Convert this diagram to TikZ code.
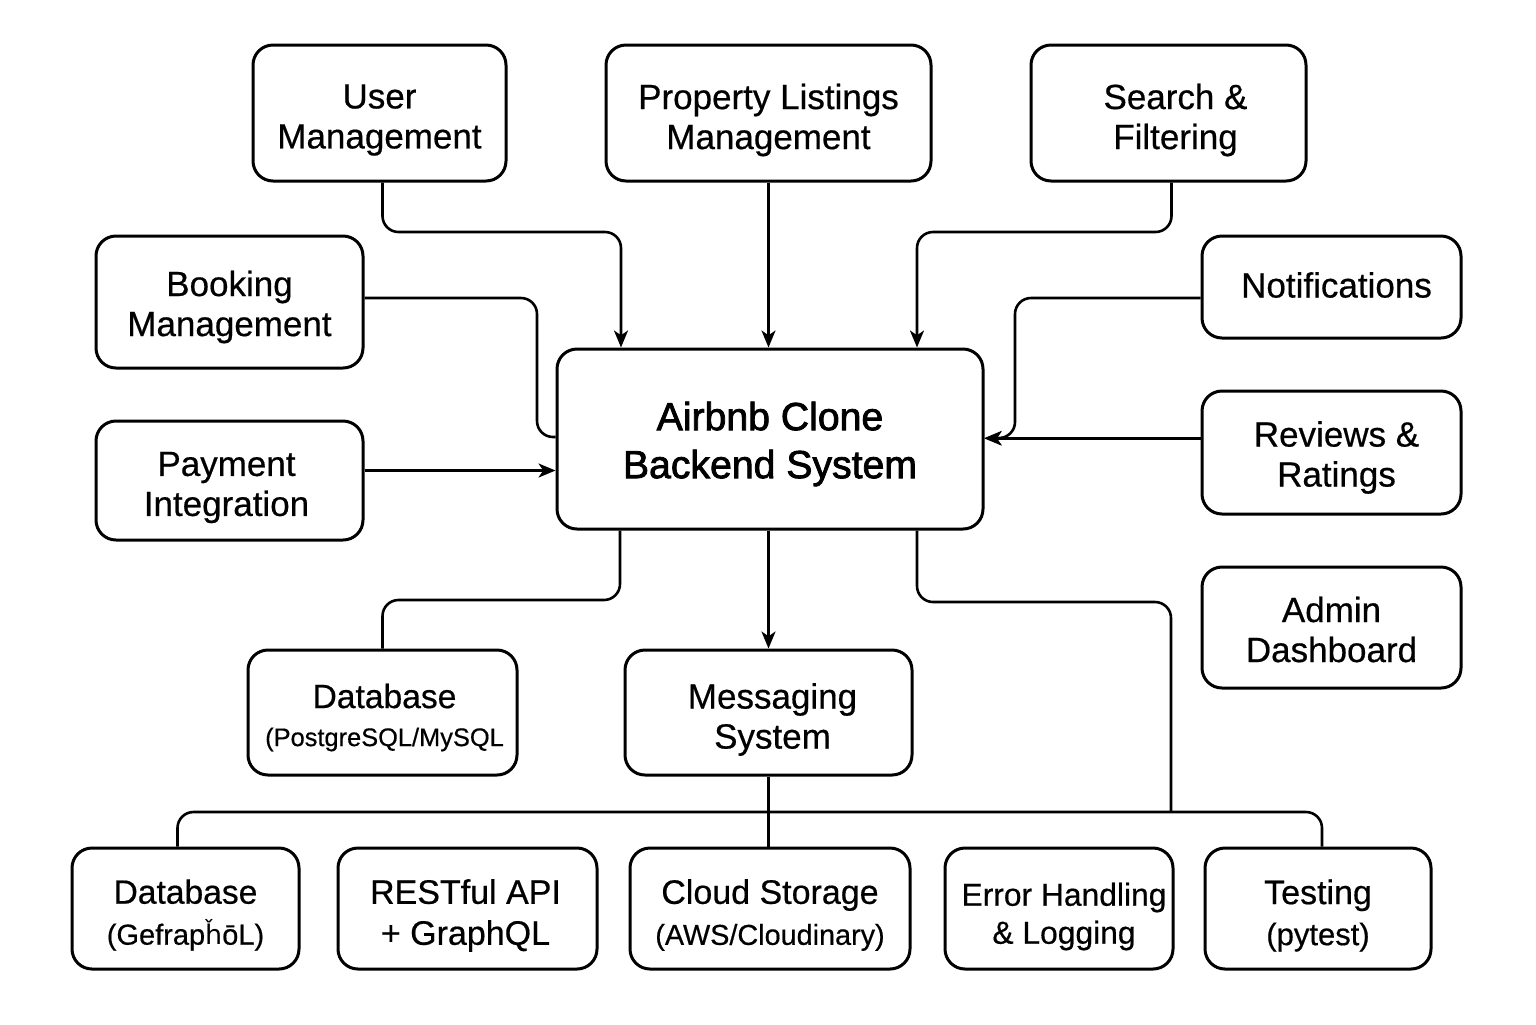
\documentclass[tikz,border=0pt]{standalone}
\usepackage{fontspec}
\setmainfont{Liberation Sans}[FakeBold=0.5]
\newfontfamily\titlefont{Liberation Sans}[FakeBold=2]
\newfontfamily\dvfont{DejaVu Sans}
\usetikzlibrary{arrows.meta,calc}
\newcommand\mybox[6]{%
  \node[box,minimum width=#3,minimum height=#4] (#1) at (#2) {};
  \node[txt,#5] (#1-t) at (#1.center) {#6};}
\begin{document}
\begin{tikzpicture}[x=0.5pt,y=-0.5pt,
  box/.style={draw,line width=1.5pt,rounded corners=10pt,inner sep=0pt},
  txt/.style={align=center,inner sep=0pt},
  conn/.style={line width=1.3pt,rounded corners=8pt},
  arr/.style={conn,-{Stealth[length=8.5pt,width=7pt,inset=2.4pt]}},
  fa/.style={font=\fontsize{17.5}{20}\selectfont},
  fb/.style={font=\fontsize{17}{20.5}\selectfont},
]
\useasboundingbox (0,0) rectangle (1536,1024);
\fill[white] (0,0) rectangle (1536,1024);

% top row
\mybox{user}{379.5,113}{126.5pt}{68pt}{fa,yshift=-3.5pt}{User\\Management}
\mybox{prop}{768.5,113}{162.5pt}{68pt}{fa,yshift=-3.5pt}{Property Listings\\Management}
\mybox{search}{1168.5,113}{137.5pt}{68pt}{fa,yshift=-3.5pt,xshift=3.5pt}{Search \&\\Filtering}

% left column
\mybox{booking}{229.5,302}{133.5pt}{66pt}{fa,yshift=-2.5pt}{Booking\\Management}
\mybox{payment}{229.5,480.5}{133.5pt}{59.5pt}{fa,yshift=-3.5pt,xshift=-1.5pt}{Payment\\Integration}

% right column
\mybox{notif}{1331.5,287}{129.5pt}{51pt}{fa,yshift=1pt,xshift=2.5pt}{Notifications}
\mybox{reviews}{1331.5,452.5}{129.5pt}{61.5pt}{fa,yshift=-2.5pt,xshift=2.5pt}{Reviews \&\\Ratings}
\mybox{admin}{1331.5,627.5}{129.5pt}{60.5pt}{fa,yshift=-1pt}{Admin\\Dashboard}

% center
\mybox{center}{770,439}{213pt}{90pt}{font=\titlefont\fontsize{19.6}{24}\selectfont,yshift=-2.5pt}{Airbnb Clone\\Backend System}

% middle row
\mybox{db1}{382.5,712.5}{134.5pt}{62.5pt}{font=\fontsize{16.8}{19}\selectfont,yshift=-2.5pt,xshift=1pt}
  {Database\\{\fontsize{12.7}{19}\selectfont (PostgreSQL/MySQL}}
\mybox{msg}{768.5,712.5}{143.5pt}{62.5pt}{fa,yshift=-3.5pt,xshift=2pt}{Messaging\\System}

% bottom row
\mybox{db2}{185.5,908.5}{113.5pt}{60.5pt}{font=\fontsize{16.8}{20.5}\selectfont,yshift=-3.25pt}
  {Database\\{\fontsize{14.5}{20.5}\selectfont (Gefrap{\dvfont\fontsize{13.5}{20.5}\selectfont ȟ}ōL)}}
\mybox{rest}{467.5,908.5}{129.5pt}{60.5pt}{fb,yshift=-3.5pt,xshift=-1pt}{RESTful API\\+ GraphQL}
\mybox{cloud}{770,908.5}{140pt}{60.5pt}{font=\fontsize{17}{20.5}\selectfont,yshift=-3.25pt}
  {Cloud Storage\\{\fontsize{14.4}{20.5}\selectfont (AWS/Cloudinary)}}
\mybox{error}{1059,908.5}{114pt}{60.5pt}{font=\fontsize{15.9}{19}\selectfont,yshift=-4pt,xshift=2.5pt}{Error Handling\\\& Logging}
\mybox{test}{1318,908.5}{113pt}{60.5pt}{font=\fontsize{17}{20.5}\selectfont,yshift=-3.5pt}
  {Testing\\{\fontsize{15.5}{20.5}\selectfont (pytest)}}

% connectors into center
\coordinate (uturn) at (621,232);
\coordinate (ustart) at ($(user.south)+(3,0)$);
\draw[arr] (ustart) |- (uturn) -- (uturn |- center.north);
\draw[arr] (prop.south) -- (prop.south |- center.north);
\coordinate (sturn) at (917,232);
\coordinate (sstart) at ($(search.south)+(3,0)$);
\draw[arr] (sstart) |- (sturn) -- (sturn |- center.north);

\coordinate (bstart) at ($(booking.east)+(0,-4)$);
\coordinate (bturn) at (537,437);
\draw[conn] (bstart) -| (bturn) -- (bturn -| center.west);

\coordinate (pstart) at ($(payment.east)+(0,-10)$);
\draw[arr] (pstart) -- (pstart -| center.west);

\coordinate (nstart) at ($(notif.west)+(0,11)$);
\coordinate (nturn) at (1015,438);
\draw[arr] (nstart) -| (nturn) -- (nturn -| center.east);

\coordinate (rstart) at ($(reviews.west)+(0,-14)$);
\draw[arr] (rstart) -- (rstart -| center.east);

% connectors out of center
\coordinate (dturn) at (620,600);
\draw[conn] (dturn |- center.south) -- (dturn) -| (db1.north);
\draw[arr] (msg.north |- center.south) -- (msg.north);
\coordinate (eturn) at (917,602);
\coordinate (junc) at (1171,812);
\draw[conn] (eturn |- center.south) -- (eturn) -| (junc);

% bus
\coordinate (bus) at (0,812);
\coordinate (db2top) at ($(db2.north)+(-8,0)$);
\coordinate (testtop) at ($(test.north)+(4,0)$);
\draw[conn] (db2top) -- (db2top |- bus) -- (testtop |- bus) -- (testtop);
\draw[conn] (msg.south) -- (msg.south |- cloud.north);
\end{tikzpicture}
\end{document}
